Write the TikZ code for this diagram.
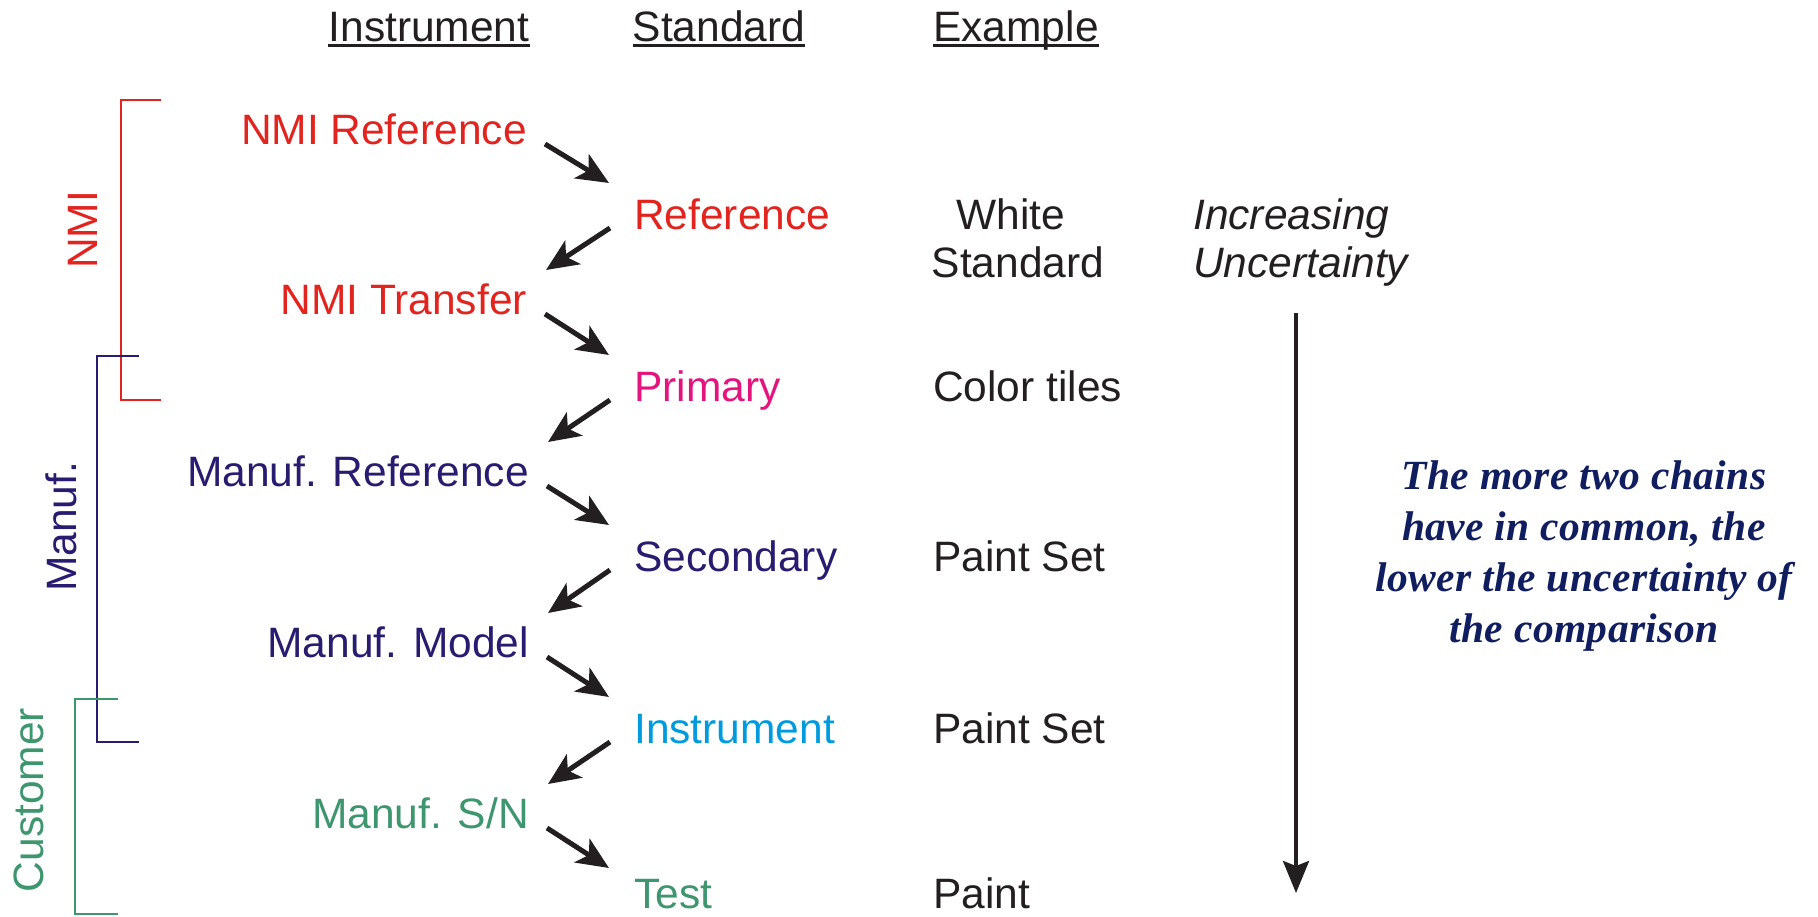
\documentclass[tikz,border=0pt]{standalone}
\usepackage{fontspec}
\setmainfont{Liberation Sans}
\newfontfamily\notefont{Liberation Serif}[LetterSpace=1]
\usetikzlibrary{arrows.meta}

\definecolor{nmired}{RGB}{226,35,30}
\definecolor{primmag}{RGB}{228,20,125}
\definecolor{manufnavy}{RGB}{40,28,112}
\definecolor{instcyan}{RGB}{0,155,222}
\definecolor{custgreen}{RGB}{62,150,110}
\definecolor{notenavy}{RGB}{16,30,96}
\definecolor{inkblack}{RGB}{35,31,32}

\tikzset{
  lbl/.style={inner sep=0pt, font=\fontsize{42.5}{48}\selectfont},
  instr/.style={lbl, anchor=base east},
  stdr/.style={lbl, anchor=base west},
  side/.style={lbl, rotate=90},
  chain/.style={draw=inkblack, line width=5pt,
    -{Stealth[length=32pt,width=28pt,inset=8pt]}},
  bracket/.style={line width=2pt},
  ul/.style={draw=inkblack, line width=2.5pt}
}

\begin{document}
\begin{tikzpicture}[x=1pt,y=-1pt]
\useasboundingbox (0,0) rectangle (1818,916);

% column headings
\node[lbl, anchor=base, text=inkblack] (hinst) at (429,41) {Instrument};
\node[lbl, anchor=base, text=inkblack] (hstd)  at (719,41) {Standard};
\node[lbl, anchor=base, text=inkblack] (hex)   at (1016,41) {Example};
\foreach \h in {hinst,hstd,hex}
  \draw[ul] ([yshift=-4.5pt]\h.base west) -- ([yshift=-4.5pt]\h.base east);

% instruments (left column)
\node[instr, text=nmired]    (i1) at (527,144) {NMI Reference};
\node[instr, text=nmired]    (i2) at (527,314) {NMI Transfer};
\node[instr, text=manufnavy] (i3) at (529,486) {Manuf. Reference};
\node[instr, text=manufnavy] (i4) at (529,657) {Manuf. Model};
\node[instr, text=custgreen] (i5) at (529,828) {Manuf. S/N};

% standards (middle column)
\node[stdr, text=nmired]    (s1) at (634,229) {Reference};
\node[stdr, text=primmag]   (s2) at (634,401) {Primary};
\node[stdr, text=manufnavy] (s3) at (634,571) {Secondary};
\node[stdr, text=instcyan]  (s4) at (634,743) {Instrument};
\node[stdr, text=custgreen] (s5) at (634,908) {Test};

% examples
\node[lbl, anchor=base, text=inkblack] (e1a) at (1011,229) {White};
\node[lbl, anchor=base, text=inkblack] (e1b) at (1018,277) {Standard};
\node[stdr, text=inkblack] (e2) at (933,401) {Color tiles};
\node[stdr, text=inkblack] (e3) at (933,571) {Paint Set};
\node[stdr, text=inkblack] (e4) at (933,743) {Paint Set};
\node[stdr, text=inkblack] (e5) at (933,908) {Paint};

% chain arrows: instrument -> standard -> next instrument
\foreach \k/\dy in {1/-46,2/-46,3/-46,4/-46,5/-40}
  \draw[chain] ([shift={(18,0)}]i\k.base east) -- ([shift={(-25,\dy)}]s\k.base west);
\foreach \k/\n in {1/2,2/3,3/4,4/5}
  \draw[chain] ([shift={(-24,-1)}]s\k.base west) -- ([shift={(19,-44)}]i\n.base east);

% increasing uncertainty
\node[stdr, text=inkblack, font=\fontsize{42.5}{48}\selectfont\itshape] (inc1) at (1193,229) {Increasing};
\node[stdr, text=inkblack, font=\fontsize{42.5}{48}\selectfont\itshape] (inc2) at (1193,277) {Uncertainty};
\coordinate (utop) at (1296,313);
\coordinate (ubot) at (1296,893);
\draw[draw=inkblack, line width=4pt, -{Stealth[length=32pt,width=26pt,inset=5pt]}] (utop) -- (ubot);

% note
\node[inner sep=0pt, align=center, text=notenavy,
      font=\notefont\bfseries\itshape\fontsize{41.5}{51}\selectfont] (note) at (1584,556)
  {The more two chains\\have in common, the\\lower the uncertainty of\\the comparison};

% organisational brackets
\draw[bracket, draw=nmired] (161,100) -- (121,100) -- (121,400) -- (161,400);
\draw[bracket, draw=manufnavy] (139,356) -- (97,356) -- (97,742) -- (139,742);
\draw[bracket, draw=custgreen] (118,699) -- (75,699) -- (75,914) -- (118,914);
\node[side, text=nmired]    (gnmi)  at (83,230) {NMI};
\node[side, text=manufnavy] (gman)  at (61,527) {Manuf.};
\node[side, text=custgreen] (gcust) at (29,800) {Customer};
\end{tikzpicture}
\end{document}
